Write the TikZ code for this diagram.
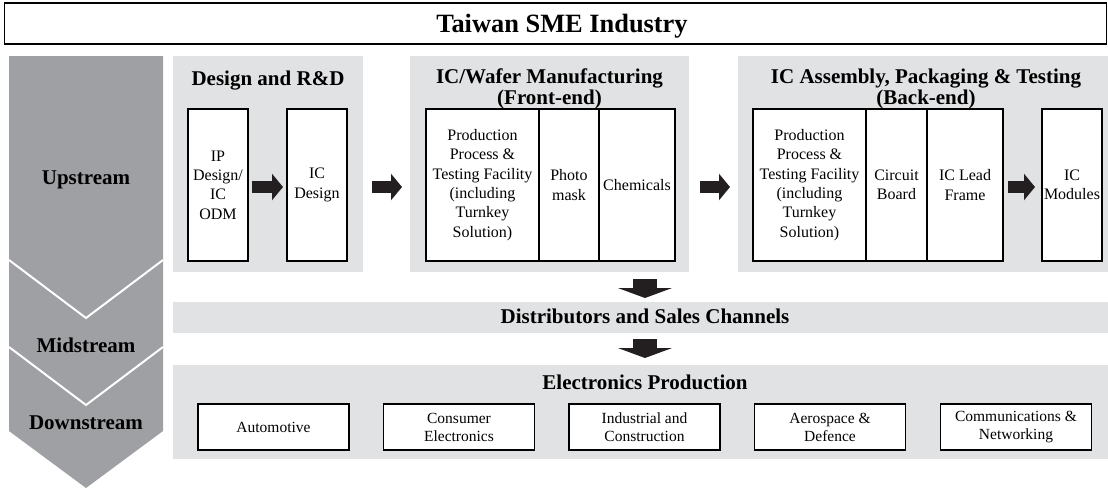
\documentclass[tikz,border=0pt]{standalone}
\usepackage{fontspec}
\setmainfont{Liberation Serif}
\usetikzlibrary{arrows.meta}
\definecolor{chev}{HTML}{9FA0A4}
\definecolor{pane}{HTML}{E1E2E4}
\definecolor{arr}{HTML}{231F20}
\begin{document}
\begin{tikzpicture}[x=1pt,y=-1pt,
  panel/.style={fill=pane, draw=none, inner sep=0pt, outer sep=0pt, anchor=north west},
  ibox/.style={draw=black, line width=1.1pt, fill=white, inner sep=0pt, outer sep=0pt,
    align=center, minimum height=152pt, font=\fontsize{16}{19.3}\selectfont},
  obox/.style={draw=black, line width=1.1pt, fill=white, inner sep=0pt, outer sep=0pt,
    align=center, minimum width=151pt, minimum height=46pt, font=\fontsize{15.5}{18}\selectfont},
  hdr/.style={font=\fontsize{21}{21}\bfseries\selectfont, inner sep=0pt, anchor=base},
  ttlfont/.style={font=\fontsize{26.4}{26}\bfseries\selectfont, inner sep=0pt, anchor=base},
  harrow/.style={draw=arr, line width=12pt, -{Triangle[length=11pt,width=26pt]}},
  varrow/.style={draw=arr, line width=24pt, -{Triangle[length=10pt,width=54pt]}},
]
\useasboundingbox (0,0) rectangle (1108,488);

% title
\node[draw=black, line width=1.2pt, minimum width=1102pt, minimum height=41pt,
      inner sep=0pt, outer sep=0pt, anchor=north west] (tbox) at (4.5,3) {};
\node[ttlfont] (ttl) at (562,32) {Taiwan SME Industry};

% chevron
\fill[chev] (9,56) -- (163,56) -- (163,431) -- (86,488) -- (9,431) -- cycle;
\draw[white, line width=2pt] (9,260) -- (86,318) -- (163,260);
\draw[white, line width=2pt] (9,347) -- (86,405) -- (163,347);
\node[hdr] (up) at (86,184) {Upstream};
\node[hdr] (mid) at (86,352) {Midstream};
\node[hdr] (down) at (86,429) {Downstream};

% panels
\node[panel, minimum width=190pt, minimum height=216pt] (des) at (173,56) {};
\node[panel, minimum width=279pt, minimum height=216pt] (fe) at (410,56) {};
\node[panel, minimum width=370pt, minimum height=216pt] (be) at (738,56) {};
\node[panel, minimum width=935pt, minimum height=31pt] (dist) at (173,302) {};
\node[panel, minimum width=935pt, minimum height=94pt] (elec) at (173,365) {};

% headers
\node[hdr] (desh) at (268,85) {Design and R\&D};
\node[hdr] (feh1) at (549.5,83) {IC/Wafer Manufacturing};
\node[hdr] (feh2) at (549.5,104) {(Front-end)};
\node[hdr] (beh1) at (926,83) {IC Assembly, Packaging \& Testing};
\node[hdr] (beh2) at (926,104) {(Back-end)};
\node[hdr] (disth) at (645,323) {Distributors and Sales Channels};
\node[hdr] (elech) at (645,389) {Electronics Production};

% design boxes
\node[ibox, minimum width=60pt] (ip) at (218,185) {IP\\Design/\\IC\\ODM};
\node[ibox, minimum width=60pt] (icd) at (317,185) {IC\\Design};

% front-end boxes
\node[ibox, minimum width=113pt] (fpp) at (482.5,185) {Production\\Process \&\\Testing Facility\\(including\\Turnkey\\Solution)};
\node[ibox, minimum width=60pt] (pm) at (569,185) {Photo\\mask};
\node[ibox, minimum width=76pt] (chem) at (637,185) {Chemicals};

% back-end boxes
\node[ibox, minimum width=113pt] (bpp) at (809.5,185) {Production\\Process \&\\Testing Facility\\(including\\Turnkey\\Solution)};
\node[ibox, minimum width=61pt] (cb) at (896.5,185) {Circuit\\Board};
\node[ibox, minimum width=76pt] (lf) at (965,185) {IC Lead\\Frame};
\node[ibox, minimum width=60pt] (mod) at (1072,185) {IC\\Modules};

% bottom boxes
\node[obox] (auto) at (273.5,427) {Automotive};
\node[obox] (cons) at (459,427) {Consumer\\Electronics};
\node[obox] (ind) at (644.5,427) {Industrial and\\Construction};
\node[obox] (aero) at (830,427) {Aerospace \&\\Defence};
\node[obox] (comm) at (1016,427) {Communications \&\\Networking};

% horizontal arrows
\draw[harrow, shorten <=4pt, shorten >=4pt] ([yshift=-2pt]ip.east) -- ([yshift=-2pt]icd.west);
\draw[harrow, shorten <=9pt, shorten >=8pt] ([yshift=-2pt]ip.east -| des.east) -- ([yshift=-2pt]ip.east -| fe.west);
\draw[harrow, shorten <=11pt, shorten >=8pt] ([yshift=-2pt]ip.east -| fe.east) -- ([yshift=-2pt]ip.east -| be.west);
\draw[harrow, shorten <=5pt, shorten >=7pt] ([yshift=-2pt]lf.east) -- ([yshift=-2pt]mod.west);

% vertical arrows
\coordinate (d1) at (645,279);
\coordinate (d2) at (645,339);
\draw[varrow, shorten >=4pt] (d1) -- (d1 |- dist.north);
\draw[varrow, shorten >=7pt] (d2) -- (d2 |- elec.north);
\end{tikzpicture}
\end{document}
